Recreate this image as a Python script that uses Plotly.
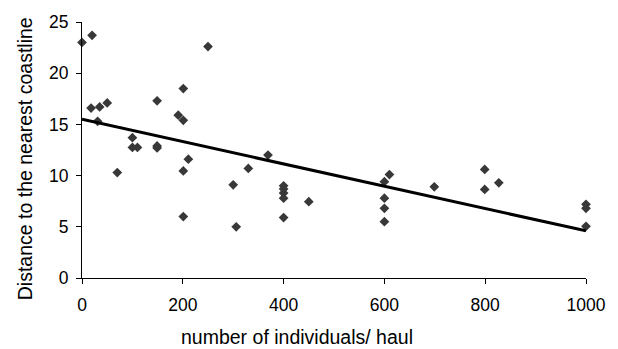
import plotly.graph_objects as go

# Observed data points (number of individuals/haul, distance to nearest coastline)
haul = [0, 20, 250, 201, 18, 35, 50, 149, 191, 201, 31, 100,
        100, 110, 149, 149, 70, 201, 211, 201, 300, 306, 330, 369,
        400, 400, 400, 400, 400, 450,
        600, 610, 600, 600, 600, 699, 799, 799, 827, 1000, 1000, 1000]
distance = [23.0, 23.7, 22.6, 18.5, 16.6, 16.7, 17.1, 17.3, 15.9, 15.4, 15.3, 13.7,
            12.75, 12.75, 12.9, 12.7, 10.3, 10.45, 11.6, 6.0, 9.1, 5.0, 10.7, 12.0,
            9.0, 8.7, 8.3, 7.8, 5.9, 7.45,
            9.4, 10.1, 7.8, 6.8, 5.5, 8.9, 10.6, 8.65, 9.3, 7.2, 6.8, 5.05]

# Linear trend line end values
trend_x = [0, 1000]
trend_y = [15.5, 4.6]

x_ticks = [0, 200, 400, 600, 800, 1000]
y_ticks = [0, 5, 10, 15, 20, 25]

x_title = "number of individuals/ haul"
y_title = "Distance to the nearest coastline"

fig = go.Figure()
fig.add_trace(go.Scatter(
    x=haul, y=distance, mode="markers",
    marker=dict(symbol="diamond", size=7.5, color="#383838", line=dict(width=0)),
    showlegend=False, cliponaxis=False))
fig.add_trace(go.Scatter(
    x=trend_x, y=trend_y, mode="lines",
    line=dict(color="black", width=3), showlegend=False))

fam = "Liberation Sans, Arial, sans-serif"
tick_font = dict(family=fam, size=17.5, color="black")
title_font = dict(family=fam, size=19.5, color="black")

fig.update_layout(
    width=618, height=349,
    margin=dict(l=82, r=28, t=16, b=71),
    plot_bgcolor="white", paper_bgcolor="white",
    xaxis=dict(range=[0, 1000], tickvals=x_ticks, showgrid=False, zeroline=False,
               showline=True, linecolor="black", linewidth=1,
               ticks="outside", ticklen=5, tickcolor="black", tickwidth=1,
               tickfont=tick_font, ticklabelstandoff=6),
    yaxis=dict(range=[0, 25], tickvals=y_ticks, showgrid=False, zeroline=False,
               showline=True, linecolor="black", linewidth=1,
               ticks="outside", ticklen=5, tickcolor="black", tickwidth=1,
               tickfont=tick_font, ticklabelstandoff=4),
    annotations=[
        dict(text=x_title, xref="paper", yref="paper", x=0.427, y=-0.229,
             xanchor="center", yanchor="middle", showarrow=False, font=title_font),
        dict(text=y_title, xref="paper", yref="paper", x=-0.114, y=0.466,
             xanchor="center", yanchor="middle", showarrow=False, textangle=-90,
             font=title_font),
    ],
)

fig.write_html("out.html")
